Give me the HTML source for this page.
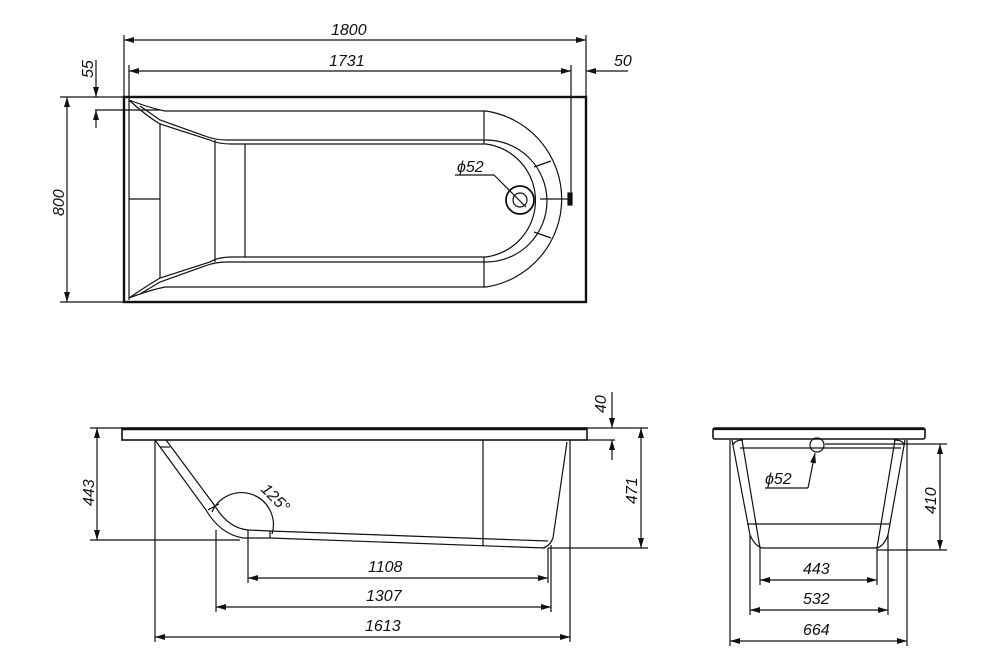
<!DOCTYPE html>
<html><head><meta charset="utf-8"><style>
html,body{margin:0;padding:0;background:#fff}
svg{display:block}
text{font-family:"Liberation Sans",sans-serif;font-style:italic;font-size:16px;fill:#111}
</style></head><body>
<svg width="1000" height="667" viewBox="0 0 1000 667" xmlns="http://www.w3.org/2000/svg">
<defs>
<marker id="a" viewBox="0 0 10 6" refX="10" refY="3" markerWidth="11" markerHeight="6" orient="auto-start-reverse" markerUnits="userSpaceOnUse"><path d="M0,0 L10,3 L0,6 z" fill="#111"/></marker>
</defs>
<g stroke="#111" fill="none" stroke-width="1.2">
<rect x="124" y="97" width="462" height="205" stroke-width="2.4"/>
<line x1="129" y1="99" x2="129" y2="300"/>
<line x1="124" y1="35" x2="124" y2="97"/><line x1="586" y1="35" x2="586" y2="97"/>
<line x1="124" y1="40" x2="586" y2="40" marker-start="url(#a)" marker-end="url(#a)"/>
<line x1="129" y1="65" x2="129" y2="99"/><line x1="571" y1="65" x2="571" y2="200"/>
<line x1="129" y1="71" x2="571" y2="71" marker-start="url(#a)" marker-end="url(#a)"/>
<line x1="586" y1="71" x2="600" y2="71" marker-start="url(#a)"/>
<line x1="600" y1="71" x2="628" y2="71"/>
<line x1="60" y1="97" x2="124" y2="97"/><line x1="60" y1="302" x2="124" y2="302"/>
<line x1="67" y1="97" x2="67" y2="302" marker-start="url(#a)" marker-end="url(#a)"/>
<line x1="95" y1="110" x2="160" y2="110"/>
<line x1="96" y1="60" x2="96" y2="97" marker-end="url(#a)"/>
<line x1="96" y1="110" x2="96" y2="128" marker-start="url(#a)"/>
<path d="M129,100 Q150,108 165,111 L486,111 A89,89 0 0 1 486,287 L165,287 Q150,290 129,298"/>
<path d="M129,100 Q145,115 160,124 L210,140 Q218,144 232,144 L486,144 A57,57 0 0 1 486,257 L232,257 Q218,257 210,262 L160,278 Q145,287 129,298"/>
<path d="M140,106 L160,120 L205,136 Q215,140 227,140 L486,140 A61,61 0 0 1 486,262 L227,262 Q215,262 205,266 L160,282 L140,294"/>
<line x1="215" y1="140" x2="215" y2="262"/><line x1="245" y1="144" x2="245" y2="257"/>
<line x1="160" y1="124" x2="160" y2="278"/><line x1="129" y1="199" x2="160" y2="199"/>
<line x1="484" y1="111" x2="484" y2="144"/><line x1="484" y1="257" x2="484" y2="287"/>
<line x1="534" y1="167" x2="551" y2="161"/><line x1="534" y1="232" x2="551" y2="238"/>
<line x1="540" y1="199" x2="570" y2="199"/>
<rect x="568" y="193" width="4" height="12" fill="#111"/>
<circle cx="520" cy="200" r="14" stroke-width="1.8"/>
<circle cx="520" cy="200" r="7"/>
<line x1="494" y1="175" x2="526" y2="207"/>
<line x1="455" y1="175" x2="494" y2="175"/>
<rect x="122" y="428" width="465" height="12" stroke-width="1.6"/>
<line x1="122" y1="429" x2="587" y2="429" stroke-width="2.4"/>
<path d="M155,440 L206,510 Q220,534 243,538 L270,538 L545,548"/>
<path d="M166,440 L215,506 Q228,528 248,530 L270,531 L548,541"/>
<line x1="170" y1="447" x2="160" y2="447"/>
<line x1="208" y1="510" x2="219" y2="504"/>
<line x1="248" y1="530" x2="248" y2="538"/><line x1="270" y1="531" x2="270" y2="538"/>
<path d="M567,442 L553,538 Q550,546 543,548"/>
<line x1="483" y1="440" x2="483" y2="546"/>
<path d="M212,512 A32,32 0 0 1 272,534"/>
<line x1="90" y1="428" x2="122" y2="428"/><line x1="90" y1="540" x2="240" y2="540"/>
<line x1="97" y1="428" x2="97" y2="540" marker-start="url(#a)" marker-end="url(#a)"/>
<line x1="587" y1="428" x2="648" y2="428"/><line x1="548" y1="548" x2="648" y2="548"/>
<line x1="641" y1="428" x2="641" y2="548" marker-start="url(#a)" marker-end="url(#a)"/>
<line x1="587" y1="440" x2="615" y2="440"/>
<line x1="612" y1="392" x2="612" y2="428" marker-end="url(#a)"/>
<line x1="612" y1="440" x2="612" y2="460" marker-start="url(#a)"/>
<line x1="155" y1="440" x2="155" y2="642"/><line x1="570" y1="440" x2="570" y2="642"/>
<line x1="216" y1="530" x2="216" y2="612"/><line x1="551" y1="545" x2="551" y2="612"/>
<line x1="248" y1="538" x2="248" y2="583"/><line x1="548" y1="548" x2="548" y2="583"/>
<line x1="248" y1="578" x2="548" y2="578" marker-start="url(#a)" marker-end="url(#a)"/>
<line x1="216" y1="607" x2="551" y2="607" marker-start="url(#a)" marker-end="url(#a)"/>
<line x1="155" y1="637" x2="570" y2="637" marker-start="url(#a)" marker-end="url(#a)"/>
<rect x="713" y="428" width="212" height="11" rx="2" stroke-width="1.6"/>
<line x1="713" y1="429" x2="925" y2="429" stroke-width="2.2"/>
<path d="M732,440 L750,535 Q755,546 762,548 L877,548 Q884,546 888,535 L905,440"/>
<path d="M742,440 L760,548 M895,440 L877,548"/>
<line x1="747" y1="524" x2="890" y2="524"/>
<line x1="740" y1="448" x2="901" y2="448"/>
<path d="M743,440 Q735,440 733,445 M894,440 Q903,440 904,445"/>
<circle cx="817" cy="445" r="7"/>
<line x1="760" y1="548" x2="760" y2="585"/><line x1="877" y1="548" x2="877" y2="585"/>
<line x1="760" y1="580" x2="877" y2="580" marker-start="url(#a)" marker-end="url(#a)"/>
<line x1="750" y1="535" x2="750" y2="615"/><line x1="888" y1="535" x2="888" y2="615"/>
<line x1="750" y1="610" x2="888" y2="610" marker-start="url(#a)" marker-end="url(#a)"/>
<line x1="730" y1="440" x2="730" y2="646"/><line x1="907" y1="440" x2="907" y2="646"/>
<line x1="730" y1="641" x2="907" y2="641" marker-start="url(#a)" marker-end="url(#a)"/>
<line x1="825" y1="444" x2="947" y2="444"/><line x1="877" y1="550" x2="947" y2="550"/>
<line x1="940" y1="444" x2="940" y2="550" marker-start="url(#a)" marker-end="url(#a)"/>
<line x1="765" y1="488" x2="808" y2="488"/>
<line x1="808" y1="488" x2="815" y2="453" marker-end="url(#a)"/>
</g>
<text x="331" y="35">1800</text>
<text x="329" y="66">1731</text>
<text x="614" y="66">50</text>
<text transform="translate(93,78) rotate(-90)">55</text>
<text transform="translate(64,216) rotate(-90)">800</text>
<text x="457" y="172">ϕ52</text>
<text transform="translate(606,413) rotate(-90)">40</text>
<text transform="translate(94,506) rotate(-90)">443</text>
<text transform="translate(637,504) rotate(-90)">471</text>
<text transform="translate(260,490) rotate(45)">125°</text>
<text x="368" y="572">1108</text>
<text x="366" y="601">1307</text>
<text x="365" y="631">1613</text>
<text x="765" y="484">ϕ52</text>
<text transform="translate(936,514) rotate(-90)">410</text>
<text x="803" y="574">443</text>
<text x="803" y="604">532</text>
<text x="803" y="635">664</text>
</svg>
</body></html>
